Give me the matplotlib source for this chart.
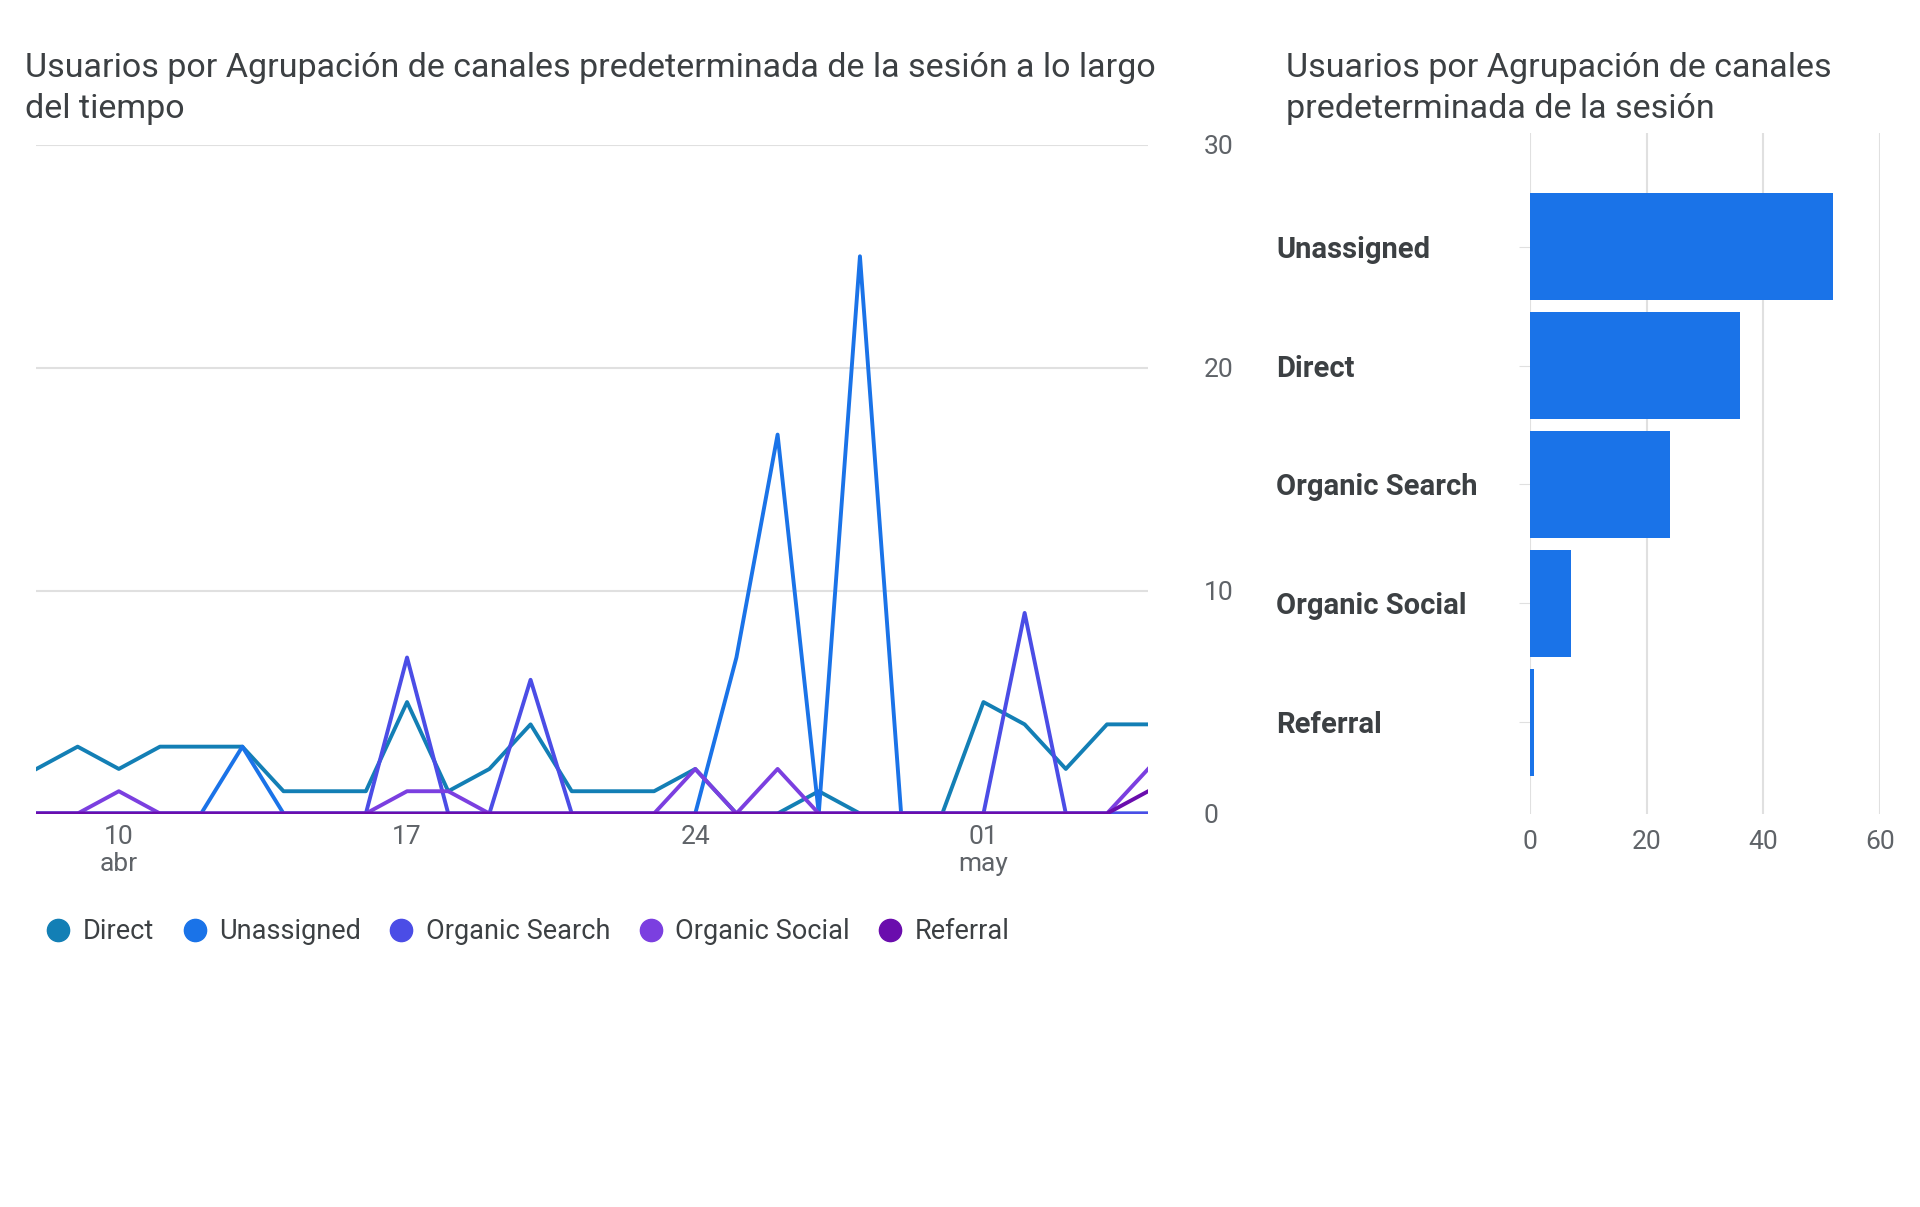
import matplotlib
matplotlib.use("Agg")
import matplotlib.pyplot as plt
import numpy as np

plt.rcParams["font.family"] = "Roboto"

days = list(range(28))  # Apr 8 .. May 5
tick_pos = [2, 9, 16, 23]
tick_labels = ["10\nabr", "17", "24", "01\nmay"]

direct = [2,3,2,3,3,3,1,1,1,5,1,2,4,1,1,1,2,0,0,1,0,0,0,5,4,2,4,4]
unassigned = [0,0,0,0,0,3,0,0,0,0,0,0,0,0,0,0,0,7,17,0,25,0,0,0,0,0,0,0]
organic_search = [0,0,0,0,0,0,0,0,0,7,0,0,6,0,0,0,0,0,0,0,0,0,0,0,9,0,0,0]
organic_social = [0,0,1,0,0,0,0,0,0,1,1,0,0,0,0,0,2,0,2,0,0,0,0,0,0,0,0,2]
referral = [0]*27 + [1]

series_names = ["Direct", "Unassigned", "Organic Search", "Organic Social", "Referral"]
series_vals = [direct, unassigned, organic_search, organic_social, referral]
colors = ["#137fb5", "#1a73e8", "#4b4de6", "#7b3fe0", "#6a0dad"]

bar_cats = ["Unassigned", "Direct", "Organic Search", "Organic Social", "Referral"]
bar_vals = [52, 36, 24, 7, 0.6]

fig = plt.figure(figsize=(19.2, 12.07), dpi=100)
grid_c = "#e0e0e0"
txt_c = "#5f6368"

ax = fig.add_axes([0.019, 0.326, 0.579, 0.554])
for name, vals, c in zip(series_names, series_vals, colors):
    ax.plot(days, vals, color=c, lw=2.8, label=name)
ax.set_xlim(0, 27)
ax.set_ylim(0, 30)
ax.set_yticks([0, 10, 20, 30])
ax.yaxis.tick_right()
ax.grid(axis="y", color=grid_c, lw=1.5)
ax.set_xticks(tick_pos)
ax.set_xticklabels(tick_labels)
ax.tick_params(axis="both", length=0, labelsize=19, labelcolor=txt_c)
ax.tick_params(axis="y", pad=40)
ax.tick_params(axis="x", pad=8)
for s in ax.spines.values():
    s.set_visible(False)
ax.axhline(0, color="#bdbdbd", lw=1.5, zorder=0)
ax.set_axisbelow(True)
fig.text(0.013, 0.957, "Usuarios por Agrupación de canales predeterminada de la sesión a lo largo\ndel tiempo",
         fontsize=24.5, color="#3c4043", va="top", linespacing=1.35)
leg = ax.legend(loc="upper left", bbox_to_anchor=(-0.012, -0.12), ncol=5, frameon=False,
                fontsize=19.5, handlelength=0.8, handletextpad=0.5, columnspacing=1.1)
for h in leg.legend_handles:
    h.set_linewidth(0)
    h.set_marker("o")
    h.set_markersize(16)
for t in leg.get_texts():
    t.set_color("#3c4043")

bx = fig.add_axes([0.797, 0.326, 0.182, 0.564])
y = np.arange(len(bar_cats))
bx.barh(y, bar_vals, height=0.9, color="#1a73e8")
bx.set_ylim(4.77, -0.96)
bx.set_xlim(0, 60)
bx.set_xticks([0, 20, 40, 60])
bx.set_yticks(y)
bx.set_yticklabels(bar_cats, fontsize=21, fontweight="bold", color="#3c4043", ha="left")
bx.tick_params(axis="y", length=8, color=grid_c, pad=175)
bx.tick_params(axis="x", length=0, labelsize=19, labelcolor=txt_c, pad=12)
bx.grid(axis="x", color=grid_c, lw=1.5)
bx.set_axisbelow(True)
for s in bx.spines.values():
    s.set_visible(False)
fig.text(0.670, 0.957, "Usuarios por Agrupación de canales\npredeterminada de la sesión",
         fontsize=24.5, color="#3c4043", va="top", linespacing=1.35)

fig.savefig("out.png", dpi=100, facecolor="white")
